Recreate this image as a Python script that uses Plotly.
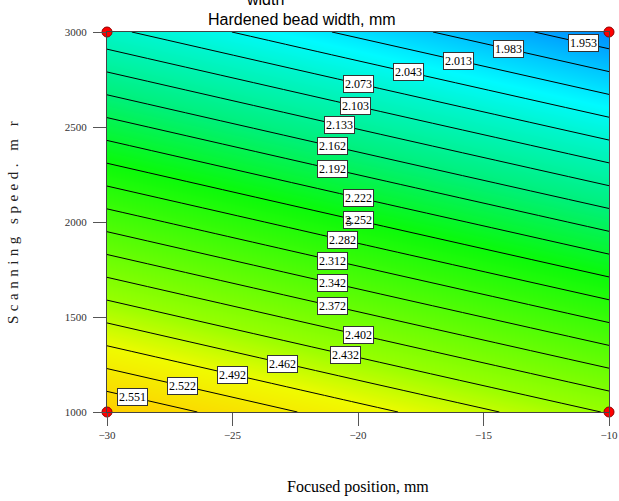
import numpy as np
import plotly.graph_objects as go

# Design space grid (focused position, mm) x (scanning speed)
focus_pos = [-30, -20, -10]
scan_speed = [1000, 2000, 3000]
# Hardened bead width, mm (rows follow scan_speed)
bead_width = [
    [2.578, 2.503, 2.429],
    [2.329, 2.254, 2.180],
    [2.080, 2.005, 1.931],
]

# contour levels shown in the chart
levels = [1.953, 1.983, 2.013, 2.043, 2.073, 2.103, 2.133, 2.162, 2.192, 2.222,
          2.252, 2.282, 2.312, 2.342, 2.372, 2.402, 2.432, 2.462, 2.492, 2.522, 2.551]
level_labels = ["1.953", "1.983", "2.013", "2.043", "2.073", "2.103", "2.133", "2.162",
                "2.192", "2.222", "2.252", "2.282", "2.312", "2.342", "2.372", "2.402",
                "2.432", "2.462", "2.492", "2.522", "2.551"]
# focused position at which each contour label sits
label_x = [-11, -14, -16, -18, -20, -20.1, -20.75, -21, -21, -20,
           -20, -20.6, -21, -21, -21, -20, -20.5, -23, -25, -27, -29]

# design points
design_x = [-30, -30, -10, -10, -20]
design_y = [1000, 3000, 3000, 1000, 2000]

x_ticks = [-30, -25, -20, -15, -10]
y_ticks = [1000, 1500, 2000, 2500, 3000]

Z = np.array(bead_width)
colorscale = [
    [0.0, "rgb(0,140,255)"],
    [0.153, "rgb(0,250,255)"],
    [0.23, "rgb(0,245,200)"],
    [0.36, "rgb(0,240,120)"],
    [0.493, "rgb(10,250,10)"],
    [0.771, "rgb(150,255,0)"],
    [0.87, "rgb(240,250,0)"],
    [1.0, "rgb(255,205,0)"],
]

fig = go.Figure()
fig.add_trace(go.Contour(
    x=focus_pos, y=scan_speed, z=bead_width,
    zmin=Z.min(), zmax=Z.max(),
    colorscale=colorscale, showscale=False,
    contours=dict(start=levels[0], end=levels[-1], size=(levels[-1] - levels[0]) / 20,
                  coloring="heatmap", showlabels=False),
    line=dict(color="black", width=1),
    hoverinfo="skip",
))
fig.add_trace(go.Scatter(
    x=design_x, y=design_y, mode="markers", cliponaxis=False,
    marker=dict(size=10, color="#ff0000", line=dict(color="#900000", width=1)),
    hoverinfo="skip", showlegend=False,
))

# contour label positions derived from the grid
ann = []
for lv, txt, lx in zip(levels, level_labels, label_x):
    col = np.array([np.interp(lx, focus_pos, row) for row in Z])
    ly = float(np.interp(lv, col[::-1], np.array(scan_speed)[::-1]))
    ann.append(dict(x=lx, y=ly, text=txt, showarrow=False, bgcolor="white",
                    xanchor="center", yanchor="middle",
                    bordercolor="#333", borderwidth=1, borderpad=1,
                    font=dict(family="Liberation Serif", size=12, color="black")))
ann.append(dict(x=design_x[-1], y=design_y[-1], text="5", showarrow=False, xshift=-9,
                xanchor="center", yanchor="middle",
                font=dict(family="Liberation Serif", size=12, color="black")))

ann.append(dict(xref="paper", yref="paper", x=0.315, y=1.086, text="width", showarrow=False,
                xanchor="center", yanchor="middle",
                font=dict(family="Liberation Sans", size=16, color="black")))
ann.append(dict(xref="paper", yref="paper", x=0.388, y=1.0316, text="Hardened bead width, mm",
                xanchor="center", yanchor="middle",
                showarrow=False, font=dict(family="Liberation Sans", size=16, color="black")))
ann.append(dict(xref="paper", yref="paper", x=-0.187, y=0.503, textangle=-90,
                xanchor="center", yanchor="middle",
                text='<span style="letter-spacing:4.5px">Scanning speed. m r</span>',
                showarrow=False, font=dict(family="Liberation Serif", size=15, color="#222")))
ann.append(dict(xref="paper", yref="paper", x=0.5, y=-0.197, text="Focused position, mm",
                xanchor="center", yanchor="middle",
                showarrow=False, font=dict(family="Liberation Serif", size=16, color="black")))

fig.update_layout(
    width=619, height=501,
    margin=dict(l=107, r=10, t=32, b=89, autoexpand=False),
    paper_bgcolor="white", plot_bgcolor="white",
    annotations=ann, showlegend=False,
)
axis_common = dict(showgrid=False, zeroline=False, ticks="outside", ticklen=13,
                   tickcolor="#555", showline=True, linecolor="#444", linewidth=1,
                   mirror=True, automargin=False,
                   tickfont=dict(family="Liberation Serif", size=11, color="#333"))
fig.update_xaxes(range=[-30, -10], tickvals=x_ticks, **axis_common)
fig.update_yaxes(range=[1000, 3000], tickvals=y_ticks, ticklabelstandoff=4, **axis_common)

fig.write_html("out.html")
